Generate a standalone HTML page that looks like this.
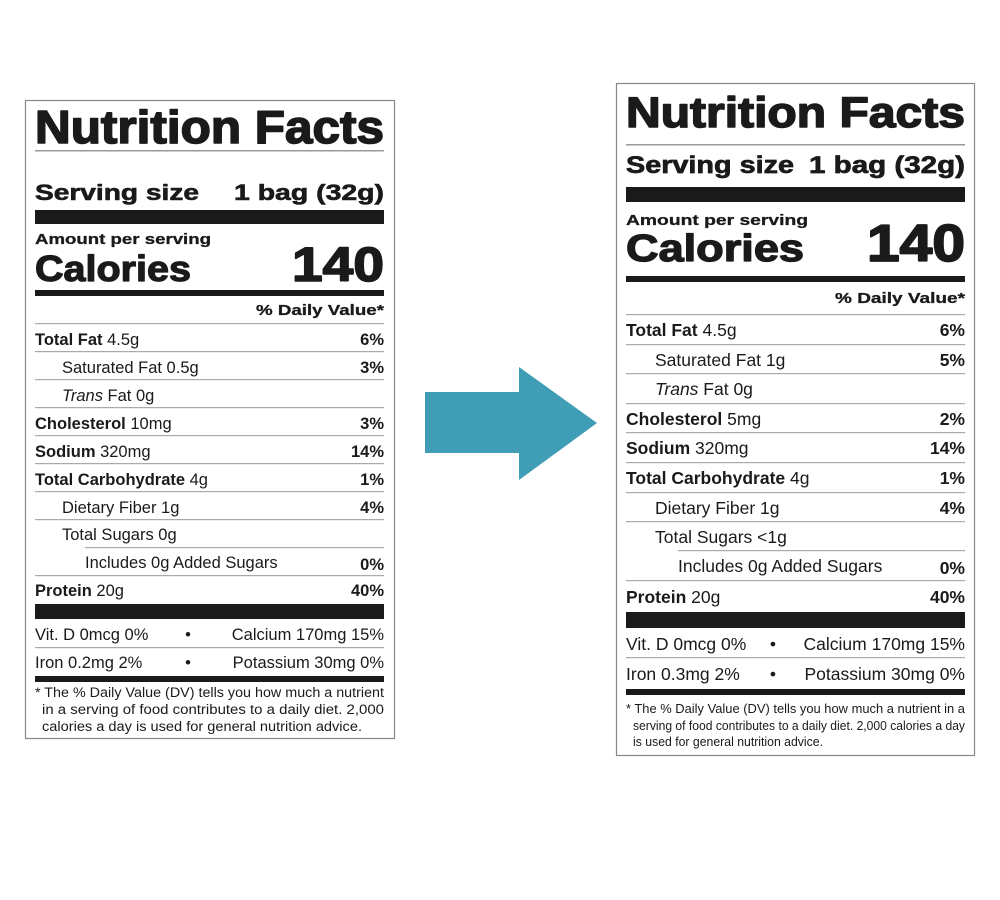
<!DOCTYPE html>
<html><head><meta charset="utf-8"><style>html,body{margin:0;padding:0;background:#fff}svg{display:block}.h{stroke:#1a1a1a;stroke-linejoin:round}</style></head>
<body>
<svg width="1000" height="900" viewBox="0 0 1000 900" xmlns="http://www.w3.org/2000/svg" font-family="Liberation Sans, Arial, sans-serif" fill="#1a1a1a">
<rect width="1000" height="900" fill="#fff"/>
<!-- LEFT LABEL -->
<rect x="25.5" y="100.5" width="369" height="638" fill="none" stroke="#888" stroke-width="1.2"/>
<text class="h" stroke-width="1.6" x="35" y="143" font-size="46" font-weight="bold" textLength="349" lengthAdjust="spacingAndGlyphs">Nutrition Facts</text>
<rect x="35" y="150" width="349" height="1.5" fill="#999"/>
<text class="h" stroke-width="0.6" x="35" y="200" font-size="22" font-weight="bold" textLength="164" lengthAdjust="spacingAndGlyphs">Serving size</text>
<text class="h" stroke-width="0.6" x="384" y="200" font-size="22" font-weight="bold" text-anchor="end" textLength="150" lengthAdjust="spacingAndGlyphs">1 bag (32g)</text>
<rect x="35" y="210" width="349" height="14"/>
<text class="h" stroke-width="0.3" x="35" y="244" font-size="15" font-weight="bold" textLength="176" lengthAdjust="spacingAndGlyphs">Amount per serving</text>
<text class="h" stroke-width="1.2" x="35" y="281" font-size="36" font-weight="bold" textLength="156" lengthAdjust="spacingAndGlyphs">Calories</text>
<text class="h" stroke-width="1.6" x="384" y="281" font-size="48" font-weight="bold" text-anchor="end" textLength="92" lengthAdjust="spacingAndGlyphs">140</text>
<rect x="35" y="290" width="349" height="6"/>
<text class="h" stroke-width="0.3" x="384" y="315" font-size="15" font-weight="bold" text-anchor="end" textLength="128" lengthAdjust="spacingAndGlyphs">% Daily Value*</text>
<g fill="#aaa">
<rect x="35" y="323" width="349" height="1.2"/>
<rect x="35" y="351" width="349" height="1.2"/>
<rect x="35" y="379" width="349" height="1.2"/>
<rect x="35" y="407" width="349" height="1.2"/>
<rect x="35" y="435" width="349" height="1.2"/>
<rect x="35" y="463" width="349" height="1.2"/>
<rect x="35" y="491" width="349" height="1.2"/>
<rect x="35" y="519" width="349" height="1.2"/>
<rect x="85" y="547" width="299" height="1.2"/>
<rect x="35" y="575" width="349" height="1.2"/>
<rect x="35" y="647" width="349" height="1.2"/>
</g>
<g font-size="16.5">
<text x="35" y="345"><tspan font-weight="bold">Total Fat</tspan> 4.5g</text>
<text x="62" y="373">Saturated Fat 0.5g</text>
<text x="62" y="401"><tspan font-style="italic">Trans</tspan> Fat 0g</text>
<text x="35" y="429"><tspan font-weight="bold">Cholesterol</tspan> 10mg</text>
<text x="35" y="457"><tspan font-weight="bold">Sodium</tspan> 320mg</text>
<text x="35" y="485"><tspan font-weight="bold">Total Carbohydrate</tspan> 4g</text>
<text x="62" y="513">Dietary Fiber 1g</text>
<text x="62" y="540">Total Sugars 0g</text>
<text x="85" y="568">Includes 0g Added Sugars</text>
<text x="35" y="596"><tspan font-weight="bold">Protein</tspan> 20g</text>
<g font-weight="bold" text-anchor="end">
<text x="384" y="345">6%</text><text x="384" y="373">3%</text><text x="384" y="429">3%</text>
<text x="384" y="457">14%</text><text x="384" y="485">1%</text><text x="384" y="513">4%</text>
<text x="384" y="570">0%</text><text x="384" y="596">40%</text>
</g>
<text x="35" y="640">Vit. D 0mcg 0%</text>
<text x="188" y="640" text-anchor="middle">•</text>
<text x="384" y="640" text-anchor="end">Calcium 170mg 15%</text>
<text x="35" y="668">Iron 0.2mg 2%</text>
<text x="188" y="668" text-anchor="middle">•</text>
<text x="384" y="668" text-anchor="end">Potassium 30mg 0%</text>
</g>
<rect x="35" y="604" width="349" height="15"/>
<rect x="35" y="676" width="349" height="6"/>
<g font-size="13.5">
<text x="35" y="697" textLength="349" lengthAdjust="spacingAndGlyphs">* The % Daily Value (DV) tells you how much a nutrient</text>
<text x="42" y="714" textLength="342" lengthAdjust="spacingAndGlyphs">in a serving of food contributes to a daily diet. 2,000</text>
<text x="42" y="731" textLength="320" lengthAdjust="spacingAndGlyphs">calories a day is used for general nutrition advice.</text>
</g>

<!-- ARROW -->
<polygon points="425,392 519,392 519,367 597,423 519,480 519,453 425,453" fill="#409db6"/>

<!-- RIGHT LABEL -->
<rect x="616.5" y="83.5" width="358" height="672" fill="none" stroke="#888" stroke-width="1.2"/>
<text class="h" stroke-width="1.5" x="626" y="127" font-size="43" font-weight="bold" textLength="339" lengthAdjust="spacingAndGlyphs">Nutrition Facts</text>
<rect x="626" y="144" width="339" height="1.5" fill="#999"/>
<text class="h" stroke-width="0.7" x="626" y="173" font-size="24" font-weight="bold" textLength="168" lengthAdjust="spacingAndGlyphs">Serving size</text>
<text class="h" stroke-width="0.7" x="965" y="173" font-size="24" font-weight="bold" text-anchor="end" textLength="156" lengthAdjust="spacingAndGlyphs">1 bag (32g)</text>
<rect x="626" y="187" width="339" height="15"/>
<text class="h" stroke-width="0.3" x="626" y="225" font-size="15" font-weight="bold" textLength="182" lengthAdjust="spacingAndGlyphs">Amount per serving</text>
<text class="h" stroke-width="1.3" x="626" y="261" font-size="38" font-weight="bold" textLength="178" lengthAdjust="spacingAndGlyphs">Calories</text>
<text class="h" stroke-width="1.8" x="965" y="261" font-size="52" font-weight="bold" text-anchor="end" textLength="98" lengthAdjust="spacingAndGlyphs">140</text>
<rect x="626" y="276" width="339" height="6"/>
<text class="h" stroke-width="0.3" x="965" y="303" font-size="15" font-weight="bold" text-anchor="end" textLength="130" lengthAdjust="spacingAndGlyphs">% Daily Value*</text>
<g fill="#aaa">
<rect x="626" y="314" width="339" height="1.2"/>
<rect x="626" y="344" width="339" height="1.2"/>
<rect x="626" y="373" width="339" height="1.2"/>
<rect x="626" y="403" width="339" height="1.2"/>
<rect x="626" y="432" width="339" height="1.2"/>
<rect x="626" y="462" width="339" height="1.2"/>
<rect x="626" y="492" width="339" height="1.2"/>
<rect x="626" y="521" width="339" height="1.2"/>
<rect x="678" y="550" width="287" height="1.2"/>
<rect x="626" y="580" width="339" height="1.2"/>
<rect x="626" y="657" width="339" height="1.2"/>
</g>
<g font-size="17.5">
<text x="626" y="336"><tspan font-weight="bold">Total Fat</tspan> 4.5g</text>
<text x="655" y="366">Saturated Fat 1g</text>
<text x="655" y="395"><tspan font-style="italic">Trans</tspan> Fat 0g</text>
<text x="626" y="425"><tspan font-weight="bold">Cholesterol</tspan> 5mg</text>
<text x="626" y="454"><tspan font-weight="bold">Sodium</tspan> 320mg</text>
<text x="626" y="484"><tspan font-weight="bold">Total Carbohydrate</tspan> 4g</text>
<text x="655" y="514">Dietary Fiber 1g</text>
<text x="655" y="543">Total Sugars &lt;1g</text>
<text x="678" y="572">Includes 0g Added Sugars</text>
<text x="626" y="603"><tspan font-weight="bold">Protein</tspan> 20g</text>
<g font-weight="bold" text-anchor="end">
<text x="965" y="336">6%</text><text x="965" y="366">5%</text><text x="965" y="425">2%</text>
<text x="965" y="454">14%</text><text x="965" y="484">1%</text><text x="965" y="514">4%</text>
<text x="965" y="574">0%</text><text x="965" y="603">40%</text>
</g>
<text x="626" y="650">Vit. D 0mcg 0%</text>
<text x="773" y="650" text-anchor="middle">•</text>
<text x="965" y="650" text-anchor="end">Calcium 170mg 15%</text>
<text x="626" y="680">Iron 0.3mg 2%</text>
<text x="773" y="680" text-anchor="middle">•</text>
<text x="965" y="680" text-anchor="end">Potassium 30mg 0%</text>
</g>
<rect x="626" y="612" width="339" height="16"/>
<rect x="626" y="689" width="339" height="6"/>
<g font-size="13">
<text x="626" y="713" textLength="339" lengthAdjust="spacingAndGlyphs">* The % Daily Value (DV) tells you how much a nutrient in a</text>
<text x="633" y="730" textLength="332" lengthAdjust="spacingAndGlyphs">serving of food contributes to a daily diet. 2,000 calories a day</text>
<text x="633" y="746" textLength="190" lengthAdjust="spacingAndGlyphs">is used for general nutrition advice.</text>
</g>
</svg>
</body></html>
